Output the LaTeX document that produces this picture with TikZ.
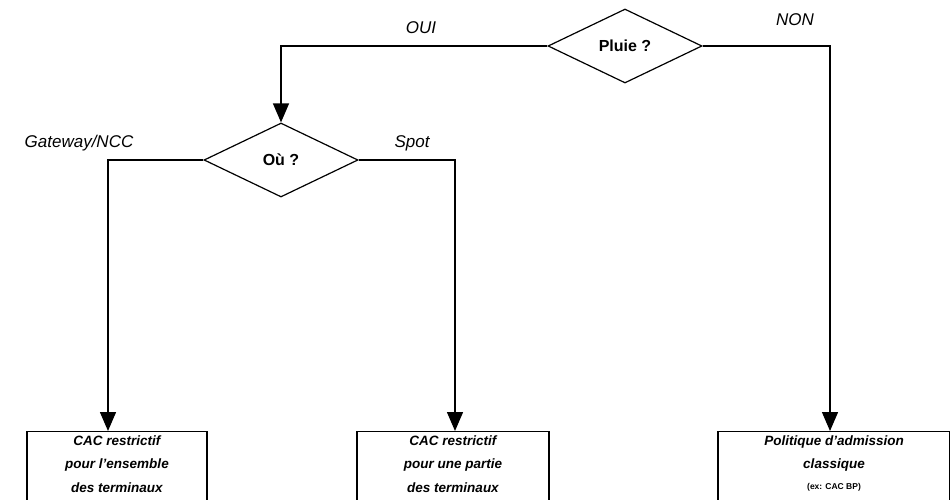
\documentclass[tikz,border=0pt]{standalone}
\usepackage{fontspec}
\setmainfont{Liberation Sans}
\usetikzlibrary{shapes.geometric,arrows.meta}
\begin{document}
\begin{tikzpicture}[x=1pt,y=-1pt,
  line width=1.4pt,
  decision/.style={draw, diamond, inner sep=0pt, minimum width=154pt,
    minimum height=74pt, line width=1.2pt,
    font=\fontsize{16}{18}\selectfont\bfseries},
  outcome/.style={draw, anchor=north, align=center, inner sep=4pt,
    line width=1.2pt, text depth=40pt,
    font=\fontsize{13.5}{23.5}\selectfont\bfseries\itshape},
  branch/.style={font=\fontsize{17}{19}\selectfont\itshape, inner sep=0pt},
  flow/.style={-{Triangle[width=16pt,length=19pt]}},
]
\useasboundingbox (0,0) rectangle (950,500);
\clip (0,0) rectangle (950,500);

% decisions
\node[decision] (pluie) at (625,46) {Pluie ?};
\node[decision] (ou) at (281,160) {Où ?};

% outcomes (open at the bottom of the page)
\node[outcome, minimum width=180pt] (b1) at (117,431)
  {CAC restrictif\\pour l’ensemble\\des terminaux};
\node[outcome, minimum width=192pt] (b2) at (453,431)
  {CAC restrictif\\pour une partie\\des terminaux};
\node[outcome, minimum width=232pt] (b3) at (834,431)
  {Politique d’admission\\classique\\[-3pt]{\fontsize{8.5}{10}\selectfont\upshape (ex: CAC BP)}};

% branch labels
\node[branch] (oui) at (421,28) {OUI};
\node[branch] (non) at (795,20) {NON};
\node[branch] (gw) at (79,143) {Gateway/NCC};
\node[branch] (spot) at (412,143) {Spot};

% connectors
\coordinate (c1) at (108,431);
\coordinate (c2) at (455,431);
\coordinate (c3) at (830,431);
\draw[flow] (pluie.west) -| (ou.north);
\draw[flow] (pluie.east) -| (c3);
\draw[flow] (ou.west) -| (c1);
\draw[flow] (ou.east) -| (c2);
\end{tikzpicture}
\end{document}
